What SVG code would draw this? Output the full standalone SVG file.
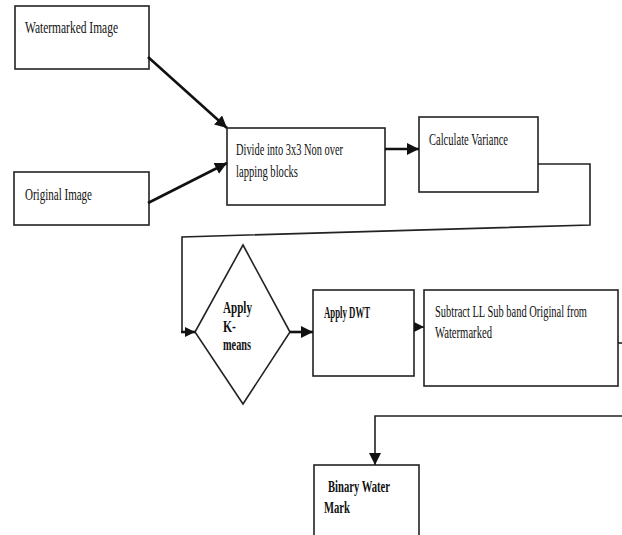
<svg xmlns="http://www.w3.org/2000/svg" width="622" height="535" viewBox="0 0 622 535">
<style>
.box{fill:#fff;stroke:#222;stroke-width:1.6}
.t{font-family:"Liberation Serif","Times New Roman",serif;font-size:17px;fill:#111}
.b{font-weight:bold}
.c{fill:none;stroke:#222;stroke-width:1.6}
.ct{fill:none;stroke:#111;stroke-width:2.6}
</style>
<defs>
<marker id="ah" markerUnits="userSpaceOnUse" markerWidth="12" markerHeight="12" viewBox="0 0 12 12" refX="12" refY="6" orient="auto">
<path d="M0,0 L12,6 L0,12 z" fill="#111"/>
</marker>
<marker id="ahs" markerUnits="userSpaceOnUse" markerWidth="10" markerHeight="10" viewBox="0 0 10 10" refX="10" refY="5" orient="auto">
<path d="M0,0 L10,5 L0,10 z" fill="#111"/>
</marker>
</defs>
<rect width="622" height="535" fill="#fff"/>
<g id="watermarked">
<rect class="box" x="15" y="6" width="134" height="63"/>
<text class="t" x="25" y="33" textLength="93" lengthAdjust="spacingAndGlyphs">Watermarked Image</text>
</g>
<g id="original">
<rect class="box" x="14" y="172" width="135" height="53"/>
<text class="t" x="25" y="200" textLength="67" lengthAdjust="spacingAndGlyphs">Original Image</text>
</g>
<g id="divide">
<rect class="box" x="227" y="128" width="158" height="77"/>
<text class="t" x="236" y="155" textLength="107" lengthAdjust="spacingAndGlyphs">Divide into 3x3 Non over</text>
<text class="t" x="236" y="177" textLength="62" lengthAdjust="spacingAndGlyphs">lapping blocks</text>
</g>
<g id="variance">
<rect class="box" x="419" y="117" width="119" height="75"/>
<text class="t" x="429" y="145" textLength="79" lengthAdjust="spacingAndGlyphs">Calculate Variance</text>
</g>
<g id="kmeans">
<path class="box" d="M243,245 L290,332 L243,404 L195,332 z"/>
<text class="t b" x="223" y="313" textLength="29" lengthAdjust="spacingAndGlyphs">Apply</text>
<text class="t b" x="223" y="332" textLength="13" lengthAdjust="spacingAndGlyphs">K-</text>
<text class="t b" x="223" y="350" textLength="28" lengthAdjust="spacingAndGlyphs">means</text>
</g>
<g id="dwt">
<rect class="box" x="313" y="290" width="101" height="86"/>
<text class="t b" x="324" y="318" textLength="46" lengthAdjust="spacingAndGlyphs">Apply DWT</text>
</g>
<g id="subtract">
<rect class="box" x="424" y="290" width="194" height="96"/>
<text class="t" x="435" y="317" textLength="152" lengthAdjust="spacingAndGlyphs">Subtract LL Sub band Original from</text>
<text class="t" x="435" y="338" textLength="57" lengthAdjust="spacingAndGlyphs">Watermarked</text>
</g>
<g id="binary">
<rect class="box" x="314" y="465" width="105" height="80"/>
<text class="t b" x="328" y="492" textLength="62" lengthAdjust="spacingAndGlyphs">Binary Water</text>
<text class="t b" x="324" y="513" textLength="26" lengthAdjust="spacingAndGlyphs">Mark</text>
</g>
<g id="connectors">
<line class="ct" x1="148" y1="57" x2="227" y2="128" marker-end="url(#ah)"/>
<line class="ct" x1="148" y1="203" x2="227" y2="163" marker-end="url(#ah)"/>
<line class="ct" x1="385" y1="149" x2="419" y2="149" marker-end="url(#ah)"/>
<polyline class="c" points="538,164 590,164 590,225 182,237 182,332"/>
<line class="ct" x1="181" y1="332" x2="195" y2="332" marker-end="url(#ahs)"/>
<line class="ct" x1="290" y1="332" x2="313" y2="332" marker-end="url(#ah)"/>
<line class="c" x1="414" y1="327" x2="424" y2="327" marker-end="url(#ahs)"/>
<line class="c" x1="618" y1="343" x2="622" y2="343"/>
<polyline class="c" points="622,416 375,416 375,465" marker-end="url(#ah)"/>
</g>
</svg>
